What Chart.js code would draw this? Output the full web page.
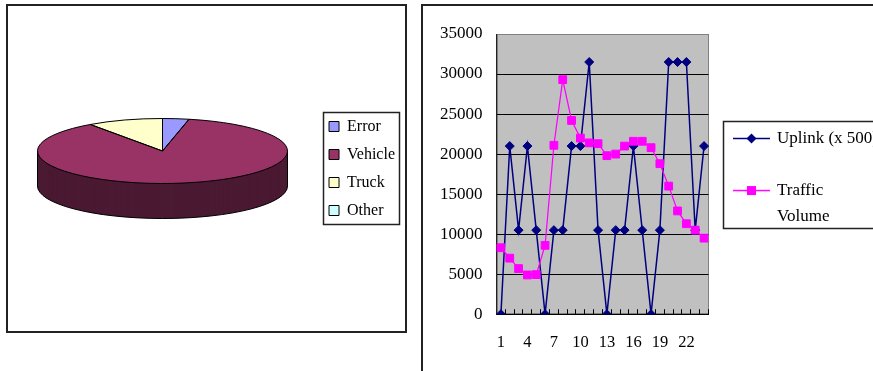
<!DOCTYPE html>
<html lang="en">

<head>
    <meta charset="UTF-8">
    <title>Detection classes and traffic volume</title>
    <script src="https://cdn.jsdelivr.net/npm/chart.js"></script>
    <style>
        html, body {
            margin: 0;
            width: 873px;
            height: 371px;
            overflow: hidden;
            background: #fff;
        }

        .panel {
            position: absolute;
            border: 2px solid #222;
        }

        canvas {
            display: block;
        }
    </style>
</head>

<body>
    <div class="panel" style="left:6px; top:4px; width:397px; height:325px;">
        <canvas id="pieChart" width="397" height="325"></canvas>
    </div>
    <div class="panel" style="left:421px; top:4px; width:480px; height:400px;">
        <canvas id="lineChart" width="480" height="380"></canvas>
    </div>

    <script>
// pie: share of detections per class (%)
const classes = ["Error", "Vehicle", "Truck", "Other"];
const shares = [3.4, 86.8, 9.8, 0];
const topColors = ["#9999FF", "#993366", "#FFFFCC", "#CCFFFF"];
const sideColors = ["#4D4D80", "#4B1A33", "#808066", "#668080"];

// line chart: hourly samples
const hours = ["1", "2", "3", "4", "5", "6", "7", "8", "9", "10", "11", "12",
  "13", "14", "15", "16", "17", "18", "19", "20", "21", "22", "23", "24"];
const uplink = [0, 21000, 10500, 21000, 10500, 0, 10500, 10500, 21000, 21000, 31500, 10500,
  0, 10500, 10500, 21000, 10500, 0, 10500, 31500, 31500, 31500, 10500, 21000];
const traffic = [8300, 7000, 5700, 4900, 4950, 8600, 21100, 29300, 24200, 22000, 21400, 21300,
  19800, 20000, 21000, 21600, 21600, 20800, 18800, 16000, 12900, 11300, 10500, 9500];
const seriesNames = ["Uplink (x 500)", "Traffic Volume"];
const legendLines = [["Uplink (x 500)"], ["Traffic", "Volume"]];
const yMin = 0, yMax = 35000, yStep = 5000;

const serif = "'Liberation Serif', 'Times New Roman', serif";

// frame around the built-in legend
const legendFrame = {
  id: 'legendFrame',
  afterDraw(chart, args, opts) {
    const boxes = chart.legend && chart.legend.legendHitBoxes;
    if (!boxes || !boxes.length) return;
    const l = Math.min(...boxes.map(b => b.left)) + opts.left;
    const t = Math.min(...boxes.map(b => b.top)) + opts.top;
    const r = Math.max(...boxes.map(b => b.left + b.width)) + opts.right;
    const b = Math.max(...boxes.map(b => b.top + b.height)) + opts.bottom;
    const ctx = chart.ctx;
    ctx.save();
    ctx.strokeStyle = '#222';
    ctx.lineWidth = 1.5;
    ctx.strokeRect(Math.round(l) + 0.5, Math.round(t) + 0.5, Math.round(r - l), Math.round(b - t));
    ctx.restore();
  }
};

// extrude the pie and squash its top face
const pie3d = {
  id: 'pie3d',
  beforeDatasetsDraw(chart, args, opts) {
    const ctx = chart.ctx;
    const arcs = chart.getDatasetMeta(0).data;
    const {x, y, outerRadius: r} = arcs[0].getProps(['x', 'y', 'outerRadius'], true);
    const top = y - opts.depth / 2;
    const sector = (a, dy) => {
      ctx.save();
      ctx.translate(x, top + dy);
      ctx.scale(1, opts.tilt);
      ctx.beginPath();
      ctx.moveTo(0, 0);
      ctx.arc(0, 0, r, a.startAngle, a.endAngle);
      ctx.closePath();
      ctx.restore();
    };
    const props = arcs.map(a => a.getProps(['startAngle', 'endAngle'], true));
    for (let dy = opts.depth; dy > 0; dy -= 0.5) {
      props.forEach((a, i) => {
        if (a.endAngle - a.startAngle <= 0) return;
        sector(a, dy);
        ctx.fillStyle = opts.sideColors[i];
        ctx.fill();
      });
    }
    // side outline
    ctx.save();
    ctx.translate(x, top + opts.depth);
    ctx.scale(1, opts.tilt);
    ctx.beginPath();
    ctx.arc(0, 0, r, 0, Math.PI);
    ctx.restore();
    ctx.moveTo(x - r, top);
    ctx.lineTo(x - r, top + opts.depth);
    ctx.moveTo(x + r, top);
    ctx.lineTo(x + r, top + opts.depth);
    props.forEach(a => {
      const ang = ((a.startAngle % (2 * Math.PI)) + 2 * Math.PI) % (2 * Math.PI);
      if (ang > 0 && ang < Math.PI) {
        const px = x + r * Math.cos(ang), py = top + r * opts.tilt * Math.sin(ang);
        ctx.moveTo(px, py);
        ctx.lineTo(px, py + opts.depth);
      }
    });
    ctx.strokeStyle = '#000';
    ctx.lineWidth = 1;
    ctx.stroke();

    ctx.save();
    ctx.translate(x, top);
    ctx.scale(1, opts.tilt);
    ctx.translate(-x, -y);
  },
  afterDatasetsDraw(chart, args, opts) {
    const ctx = chart.ctx;
    ctx.restore();
    const arcs = chart.getDatasetMeta(0).data;
    const {x, y, outerRadius: r} = arcs[0].getProps(['x', 'y', 'outerRadius'], true);
    const top = y - opts.depth / 2;
    ctx.strokeStyle = '#000';
    ctx.lineWidth = 1;
    arcs.forEach(arc => {
      const a = arc.getProps(['startAngle', 'endAngle'], true);
      if (a.endAngle - a.startAngle <= 0) return;
      ctx.save();
      ctx.translate(x, top);
      ctx.scale(1, opts.tilt);
      ctx.beginPath();
      ctx.moveTo(0, 0);
      ctx.arc(0, 0, r, a.startAngle, a.endAngle);
      ctx.closePath();
      ctx.restore();
      ctx.stroke();
    });
  }
};

// grey plot area with its border
const plotArea = {
  id: 'plotArea',
  beforeDraw(chart) {
    const {ctx, chartArea: a} = chart;
    ctx.save();
    ctx.fillStyle = '#C0C0C0';
    ctx.fillRect(a.left, a.top, a.width, a.height);
    ctx.strokeStyle = '#808080';
    ctx.lineWidth = 1;
    ctx.strokeRect(Math.round(a.left) + 0.5, Math.round(a.top) + 0.5, Math.round(a.width) - 1, Math.round(a.height) - 1);
    ctx.restore();
  }
};

new Chart(document.getElementById('pieChart'), {
  type: 'pie',
  data: {
    labels: classes,
    datasets: [{
      data: shares,
      backgroundColor: topColors,
      borderWidth: 0,
      radius: 125,
      clip: false
    }]
  },
  options: {
    responsive: false,
    animation: false,
    events: [],
    layout: { padding: { right: 0 } },
    plugins: {
      legend: {
        position: 'right',
        labels: {
          boxWidth: 10,
          boxHeight: 10,
          padding: 12,
          color: '#000',
          font: { family: serif, size: 16 },
          generateLabels: chart => Chart.overrides.doughnut.plugins.legend.labels.generateLabels(chart)
            .map(item => Object.assign(item, { strokeStyle: '#000', lineWidth: 1 }))
        }
      },
      tooltip: { enabled: false },
      pie3d: { depth: 35, tilt: 0.26, sideColors: sideColors },
      legendFrame: { left: -6, top: -7, right: 4, bottom: 5 }
    }
  },
  plugins: [pie3d, legendFrame]
});

function legendSymbol(color, style) {
  const c = document.createElement('canvas');
  c.width = 37;
  c.height = 13;
  const g = c.getContext('2d');
  g.strokeStyle = color;
  g.lineWidth = 1.5;
  g.beginPath();
  g.moveTo(0, 6.5);
  g.lineTo(37, 6.5);
  g.stroke();
  g.fillStyle = color;
  if (style === 'rectRot') {
    g.beginPath();
    g.moveTo(18.5, 1.5);
    g.lineTo(23.5, 6.5);
    g.lineTo(18.5, 11.5);
    g.lineTo(13.5, 6.5);
    g.closePath();
    g.fill();
  } else {
    g.fillRect(14, 2, 9, 9);
  }
  return c;
}
const symbols = [legendSymbol('#000080', 'rectRot'), legendSymbol('#FF00FF', 'rect')];

new Chart(document.getElementById('lineChart'), {
  type: 'line',
  data: {
    labels: hours,
    datasets: [{
      label: seriesNames[0],
      data: uplink,
      borderColor: '#000080',
      backgroundColor: '#000080',
      borderWidth: 1.5,
      pointStyle: 'rectRot',
      pointRadius: 4.5,
      pointBorderWidth: 1,
      tension: 0,
      order: 2
    }, {
      label: seriesNames[1],
      data: traffic,
      borderColor: '#FF00FF',
      backgroundColor: '#FF00FF',
      borderWidth: 1.25,
      pointStyle: 'rect',
      pointRadius: 5.5,
      pointBorderWidth: 1,
      tension: 0,
      order: 1
    }]
  },
  options: {
    responsive: false,
    animation: false,
    events: [],
    layout: { padding: { left: 3, top: 28, right: 15, bottom: 9 } },
    scales: {
      x: {
        offset: true,
        grid: { offset: true, drawOnChartArea: false, tickLength: -5, color: '#000' },
        border: { color: '#000' },
        ticks: {
          autoSkip: false,
          maxRotation: 0,
          padding: 24,
          color: '#000',
          font: { family: serif, size: 16.5 },
          callback: (value, index) => index % 3 === 0 ? hours[index] : ''
        }
      },
      y: {
        min: yMin,
        max: yMax,
        grid: {
          drawTicks: false,
          color: ctx => ctx.tick && ctx.tick.value === yMax ? '#808080' : '#000'
        },
        border: { color: '#222' },
        ticks: {
          stepSize: yStep,
          padding: 14,
          color: '#000',
          font: { family: serif, size: 17 },
          callback: value => String(value)
        }
      }
    },
    plugins: {
      legend: {
        position: 'right',
        align: 'start',
        maxWidth: 300,
        title: { display: true, text: '', font: { size: 17 }, padding: { top: 49.6, bottom: 0 } },
        labels: {
          usePointStyle: true,
          pointStyleWidth: 34,
          padding: 26,
          color: '#000',
          font: { family: serif, size: 17, lineHeight: 1.53 },
          sort: (a, b) => a.datasetIndex - b.datasetIndex,
          generateLabels: chart => Chart.defaults.plugins.legend.labels.generateLabels(chart)
            .map(item => Object.assign(item, {
              text: legendLines[item.datasetIndex],
              pointStyle: symbols[item.datasetIndex]
            }))
        }
      },
      tooltip: { enabled: false },
      legendFrame: { left: -11.7, top: -9, right: 100, bottom: -6 }
    }
  },
  plugins: [plotArea, legendFrame]
});
    </script>
</body>

</html>
